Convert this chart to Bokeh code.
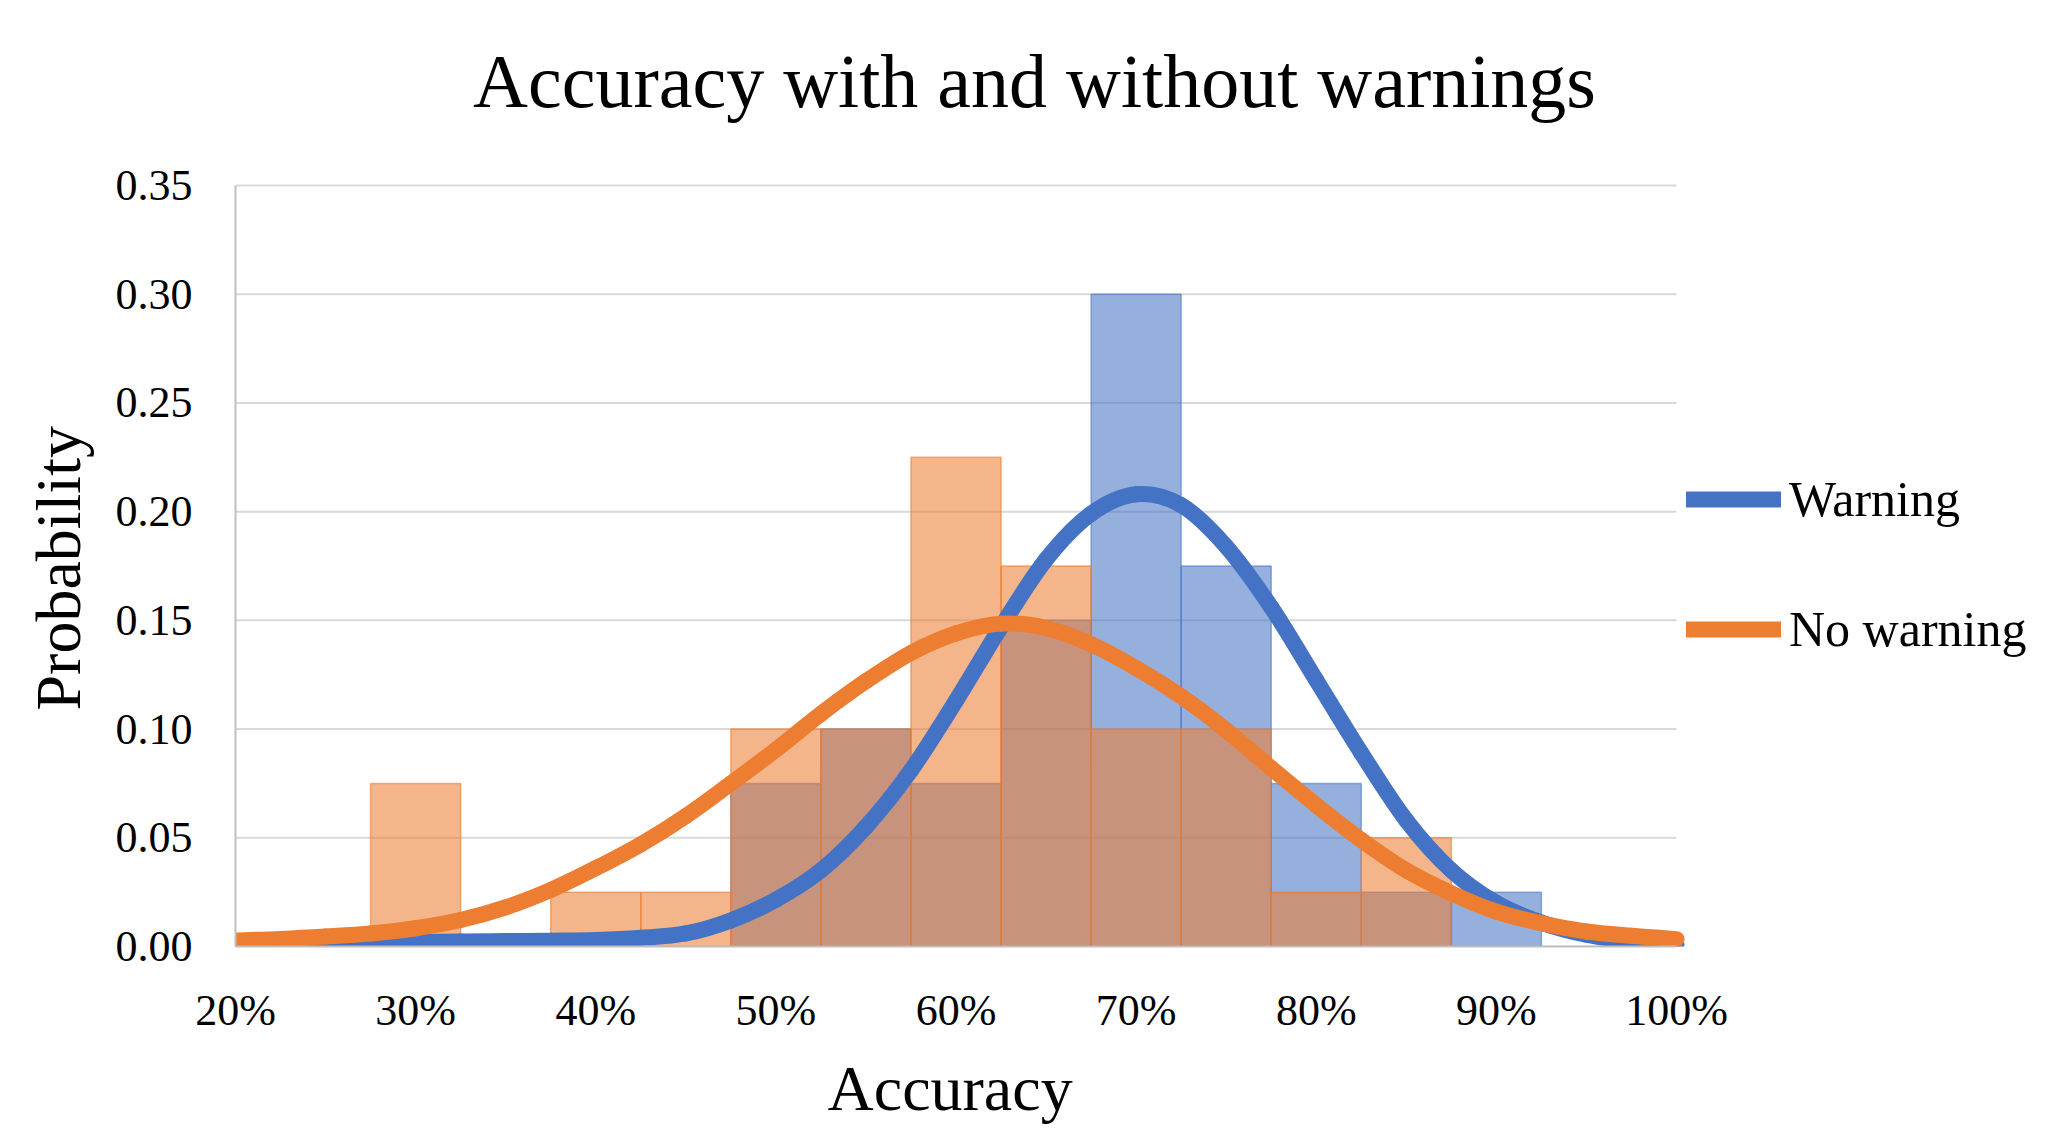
from bokeh.plotting import figure
from bokeh.models import (FixedTicker, NumeralTickFormatter, Legend, LegendItem, Label,
                          Range1d, Title)
from bokeh.embed import file_html
from bokeh.resources import INLINE

# ---------------- data ----------------
bin_centers = [30, 35, 40, 45, 50, 55, 60, 65, 70, 75, 80, 85, 90]
bin_width = 5
warning_prob = [0, 0, 0, 0, 0.075, 0.10, 0.075, 0.15, 0.30, 0.175, 0.075, 0.025, 0.025]
no_warning_prob = [0.075, 0, 0.025, 0.025, 0.10, 0.10, 0.225, 0.175, 0.10, 0.10, 0.025, 0.05, 0]

curve_x = [20, 22.5, 25, 27.5, 30, 32.5, 35, 37.5, 40, 42.5, 45, 47.5, 50, 52.5, 55, 57.5,
           60, 62.5, 65, 67.5, 70, 72.5, 75, 77.5, 80, 82.5, 85, 87.5, 90, 92.5, 95, 97.5, 100]
warning_curve = [0.0015, 0.0015, 0.0016, 0.0018, 0.002, 0.0023, 0.0025, 0.0027, 0.003, 0.004,
                 0.006, 0.012, 0.0215, 0.035, 0.055, 0.081, 0.113, 0.147, 0.178, 0.199, 0.208,
                 0.203, 0.184, 0.156, 0.1225, 0.089, 0.058, 0.035, 0.020, 0.011, 0.0054, 0.0023, 0.001]
no_warning_curve = [0.0028, 0.0035, 0.0046, 0.006, 0.0084, 0.0122, 0.018, 0.026, 0.036, 0.047,
                    0.060, 0.075, 0.0905, 0.107, 0.122, 0.135, 0.144, 0.1485, 0.1465, 0.139, 0.128,
                    0.115, 0.0995, 0.082, 0.065, 0.049, 0.035, 0.0245, 0.016, 0.0107, 0.0069, 0.0049, 0.0034]

x_ticks = [20, 30, 40, 50, 60, 70, 80, 90, 100]
x_tick_labels = ["20%", "30%", "40%", "50%", "60%", "70%", "80%", "90%", "100%"]
y_ticks = [0, 0.05, 0.10, 0.15, 0.20, 0.25, 0.30, 0.35]

BLUE = "#4472C4"
ORANGE = "#ED7D31"
FONT = "Liberation Serif"

# ---------------- layout (pixels) ----------------
W, H = 2061, 1140
PLOT_LEFT, PLOT_RIGHT, PLOT_TOP, PLOT_BOTTOM = 235, 1676, 185, 946
X_MIN, X_MAX = x_ticks[0], x_ticks[-1]
Y_MIN, Y_MAX = y_ticks[0], y_ticks[-1]
px_x = (PLOT_RIGHT - PLOT_LEFT) / (X_MAX - X_MIN)
px_y = (PLOT_BOTTOM - PLOT_TOP) / (Y_MAX - Y_MIN)
x_end = X_MAX + (W - PLOT_RIGHT) / px_x
y_end = Y_MAX + PLOT_TOP / px_y


def smooth_segments(xs, ys):
    """Cubic Bezier segments through the points (like a spreadsheet 'smoothed line')."""
    n = len(xs)
    seg = dict(x0=[], y0=[], x1=[], y1=[], cx0=[], cy0=[], cx1=[], cy1=[])
    for i in range(n - 1):
        a = max(i - 1, 0)
        b = min(i + 2, n - 1)
        seg["x0"].append(xs[i]); seg["y0"].append(ys[i])
        seg["x1"].append(xs[i + 1]); seg["y1"].append(ys[i + 1])
        seg["cx0"].append(xs[i] + (xs[i + 1] - xs[a]) / 6.0)
        seg["cy0"].append(ys[i] + (ys[i + 1] - ys[a]) / 6.0)
        seg["cx1"].append(xs[i + 1] - (xs[b] - xs[i]) / 6.0)
        seg["cy1"].append(ys[i + 1] - (ys[b] - ys[i]) / 6.0)
    return seg


# ---------------- figure ----------------
p = figure(width=W, height=H, x_range=Range1d(X_MIN, x_end), y_range=Range1d(Y_MIN, y_end),
           output_backend="svg", toolbar_location=None,
           min_border_left=PLOT_LEFT, min_border_right=0, min_border_top=0,
           min_border_bottom=H - PLOT_BOTTOM)
p.background_fill_color = "white"
p.border_fill_color = "white"
p.outline_line_color = None
p.xgrid.grid_line_color = None
p.ygrid.grid_line_color = None

# horizontal gridlines, only across the data area
p.segment(x0=[X_MIN] * len(y_ticks), x1=[X_MAX] * len(y_ticks), y0=y_ticks, y1=y_ticks,
          line_color="#D9D9D9", line_width=2)

# bars
wx = [c for c, v in zip(bin_centers, warning_prob) if v > 0]
wv = [v for v in warning_prob if v > 0]
nx = [c for c, v in zip(bin_centers, no_warning_prob) if v > 0]
nv = [v for v in no_warning_prob if v > 0]

p.vbar(x=wx, width=bin_width, top=wv, bottom=0, fill_color=BLUE, fill_alpha=0.56,
       line_color=BLUE, line_alpha=0.55, line_width=1.5)
p.vbar(x=nx, width=bin_width, top=nv, bottom=0, fill_color=ORANGE, fill_alpha=0.57,
       line_color=ORANGE, line_alpha=0.6, line_width=1.5)

# smoothed curves
r_w = p.bezier(line_color=BLUE, line_width=16, line_cap="round",
               **smooth_segments(curve_x, warning_curve))
r_n = p.bezier(line_color=ORANGE, line_width=16, line_cap="round",
               **smooth_segments(curve_x, no_warning_curve))

# axes
p.xaxis.ticker = FixedTicker(ticks=x_ticks)
p.xaxis.major_label_overrides = {t: l for t, l in zip(x_ticks, x_tick_labels)}
p.xaxis.bounds = (X_MIN, X_MAX)
p.yaxis.ticker = FixedTicker(ticks=y_ticks)
p.yaxis.formatter = NumeralTickFormatter(format="0.00")
p.yaxis.bounds = (Y_MIN, Y_MAX)
for ax in (p.xaxis, p.yaxis):
    ax.major_tick_line_color = None
    ax.minor_tick_line_color = None
    ax.axis_line_color = "#BFBFBF"
    ax.axis_line_width = 2
    ax.major_label_text_font = FONT
    ax.major_label_text_font_size = "44px"
    ax.major_label_text_color = "#000000"
p.xaxis.major_label_standoff = 33
p.yaxis.major_label_standoff = 37

# axis titles placed as panel titles so they can be offset along the data area
p.add_layout(Title(text="Accuracy", align="left", offset=592, vertical_align="bottom",
                   standoff=27, text_font=FONT, text_font_size="64px",
                   text_font_style="normal", text_color="#000000"), "below")
p.add_layout(Title(text="Probability", align="left", offset=236, vertical_align="bottom",
                   standoff=37, text_font=FONT, text_font_size="64px",
                   text_font_style="normal", text_color="#000000"), "left")

# chart title (inside the extended frame, above the data area)
TITLE_CX, TITLE_BASE = 1034, 80
p.add_layout(Label(x=X_MIN + (TITLE_CX - PLOT_LEFT) / px_x,
                   y=(PLOT_BOTTOM - TITLE_BASE) / px_y,
                   text="Accuracy with and without warnings",
                   text_align="center", text_baseline="alphabetic",
                   text_font=FONT, text_font_size="76px", text_color="#000000"))

legend = Legend(items=[LegendItem(label="Warning", renderers=[r_w]),
                       LegendItem(label="No warning", renderers=[r_n])],
                location=(1686 - PLOT_LEFT, PLOT_BOTTOM - 659), orientation="vertical",
                label_text_font=FONT, label_text_font_size="50px", label_text_color="#000000",
                glyph_width=95, glyph_height=60, label_height=60, label_standoff=8,
                spacing=70, padding=0, margin=0,
                border_line_alpha=0, background_fill_alpha=0)
p.add_layout(legend, "center")

open("out.html", "w").write(file_html(p, INLINE))
